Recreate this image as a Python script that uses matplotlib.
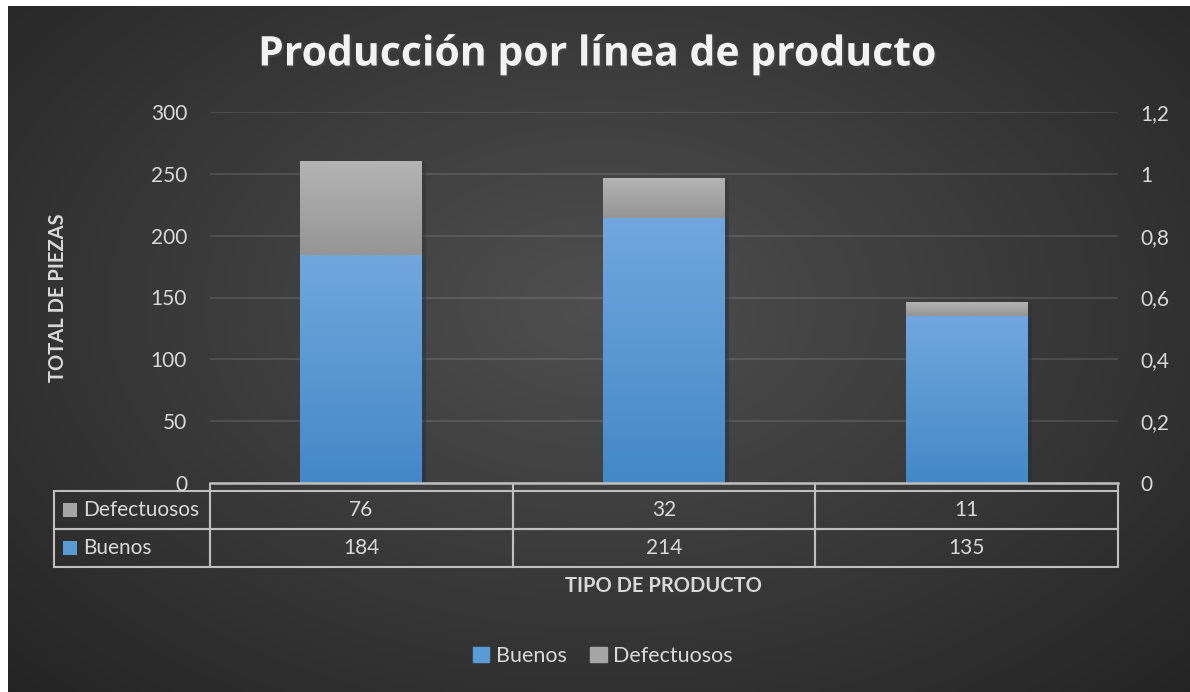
import numpy as np
import matplotlib
matplotlib.use("Agg")
import matplotlib.pyplot as plt
import matplotlib.patheffects as pe
from matplotlib.patches import Patch
from matplotlib.ticker import FuncFormatter

categorias = ["1", "2", "3"]
buenos = [184, 214, 135]
defectuosos = [76, 32, 11]
series = ["Buenos", "Defectuosos"]

plt.rcParams['font.family'] = ['Lato', 'DejaVu Sans']

txt = '#d9d9d9'
linea = '#bfbfbf'
fs = 15

fig = plt.figure(figsize=(11.9, 6.92), dpi=100)
fig.patch.set_facecolor('white')

# fondo degradado radial
bg = fig.add_axes([8 / 1190, 0, 1 - 8 / 1190, 1 - 6 / 692])
yy, xx = np.mgrid[-1:1:300j, -1:1:500j]
r = np.clip(np.sqrt((xx * 0.9) ** 2 + (yy * 0.8 + 0.1) ** 2), 0, 1.3) / 1.3
c_centro, c_borde = 0.31, 0.14
g = c_centro + (c_borde - c_centro) * r
bg.imshow(np.dstack([g, g, g]), aspect='auto', extent=[0, 1, 0, 1])
bg.axis('off')

ax = fig.add_axes([210 / 1190, 1 - 483 / 692, 908 / 1190, 371 / 692])
ax.set_facecolor('none')
x = np.arange(len(categorias))
ancho = 0.403

b1 = ax.bar(x, buenos, ancho, color='#5b9bd5', zorder=3,
            path_effects=[pe.SimplePatchShadow(offset=(3, -1), alpha=0.45), pe.Normal()])
b2 = ax.bar(x, defectuosos, ancho, bottom=buenos, color='#a5a5a5', zorder=3,
            path_effects=[pe.SimplePatchShadow(offset=(3, -1), alpha=0.45), pe.Normal()])


def degradado(rects, arriba, abajo):
    arriba = np.array(matplotlib.colors.to_rgb(arriba))
    abajo = np.array(matplotlib.colors.to_rgb(abajo))
    t = np.linspace(0, 1, 100)[:, None]
    img = (arriba * (1 - t) + abajo * t)[:, None, :]
    for rc in rects:
        x0, y0 = rc.get_x(), rc.get_y()
        ax.imshow(img, extent=[x0, x0 + rc.get_width(), y0, y0 + rc.get_height()],
                  aspect='auto', zorder=4, interpolation='bilinear')


degradado(b1, '#71a7dd', '#4488c8')
degradado(b2, '#b4b4b4', '#959595')

ax.set_xlim(-0.5, 2.5)
ax.set_ylim(0, 300)
ax.set_yticks(range(0, 301, 50))
ax.yaxis.grid(True, color='white', alpha=0.12, lw=1.3, zorder=0)
ax.set_axisbelow(True)
for s in ['top', 'left', 'right']:
    ax.spines[s].set_visible(False)
ax.spines['bottom'].set_color(linea)
ax.spines['bottom'].set_linewidth(1.8)
ax.spines['bottom'].set_zorder(6)
ax.set_xticks(x)
ax.set_xticklabels([])
ax.set_xticks([-0.5, 0.5, 1.5, 2.5], minor=True)
ax.tick_params(axis='x', which='major', length=0)
ax.tick_params(axis='x', which='minor', length=6, width=1.5, color=linea, direction='out')
ax.tick_params(axis='y', length=0, pad=16.5, labelsize=fs, labelcolor=txt)

ax2 = ax.twinx()
ax2.set_ylim(0, 1.2)
ax2.set_yticks([0, 0.2, 0.4, 0.6, 0.8, 1.0, 1.2])
ax2.yaxis.set_major_formatter(FuncFormatter(lambda v, p: f'{v:g}'.replace('.', ',')))
ax2.tick_params(axis='y', length=0, pad=16, labelsize=fs, labelcolor=txt)
for s in ax2.spines.values():
    s.set_visible(False)

# tabla de datos
etiquetas = series[::-1]
celdas = [[str(v) for v in defectuosos], [str(v) for v in buenos]]
ancho_etq = 156 / 908
t_top = -8 / 371
t_alto = 76 / 371
tabla = ax.table(cellText=celdas, rowLabels=etiquetas, cellLoc='center', rowLoc='left',
                 bbox=[0, t_top - t_alto, 1, t_alto])
tabla._autoColumns = []
tabla.auto_set_font_size(False)
tabla.set_fontsize(fs)
for (fila, col), cel in tabla.get_celld().items():
    cel.set_edgecolor(linea)
    cel.set_linewidth(1.5)
    cel.set_facecolor('none')
    cel.get_text().set_color(txt)
    if col == -1:
        cel.set_width(ancho_etq)
        cel.PAD = 29 / 156
    else:
        cel.set_width(1 / 3)

cols_tabla = ['#a5a5a5', '#5b9bd5']
for i, c in enumerate(cols_tabla):
    yc = t_top - t_alto * (i + 0.5) / 2
    ax.scatter([-ancho_etq + 16 / 908], [yc], marker='s', s=100, color=c, linewidths=0,
               transform=ax.transAxes, clip_on=False, zorder=7)

fig.text(598 / 1190, 1 - 55 / 692, 'Producción por línea de producto', ha='center', va='center',
         fontsize=29.5, fontweight='bold', color='#f2f2f2', family=['Open Sans', 'DejaVu Sans'],
         path_effects=[pe.withSimplePatchShadow(offset=(1.5, -1.5), alpha=0.6)])
fig.text(58 / 1190, 1 - 298 / 692, 'TOTAL DE PIEZAS', rotation=90, ha='center', va='center',
         fontsize=14.5, fontweight='bold', color=txt)
fig.text(663 / 1190, 1 - 586 / 692, 'TIPO DE PRODUCTO', ha='center', va='center',
         fontsize=14.5, fontweight='bold', color=txt)

fig.legend(handles=[Patch(color='#5b9bd5', label=series[0]), Patch(color='#a5a5a5', label=series[1])],
           loc='center', bbox_to_anchor=(603 / 1190, 1 - 656 / 692), ncol=2, frameon=False,
           fontsize=fs + 0.5, labelcolor=txt, handlelength=0.75, handleheight=0.75, handletextpad=0.3,
           columnspacing=1.1)

fig.savefig('out.png', dpi=100, facecolor=fig.get_facecolor())
